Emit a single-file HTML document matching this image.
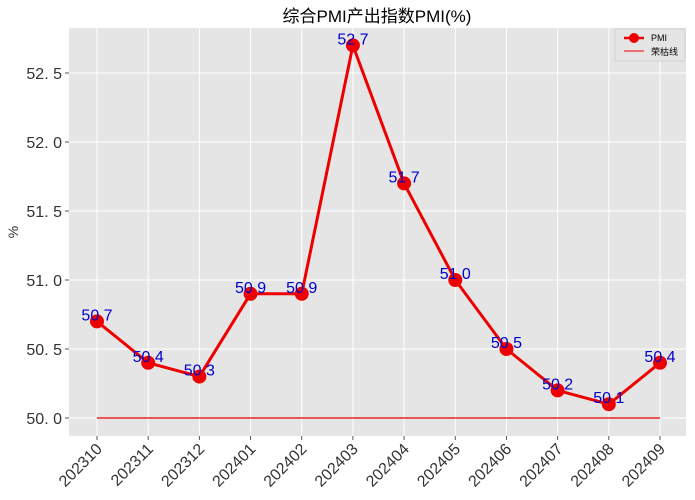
<!DOCTYPE html>
<html><head><meta charset="utf-8"><style>
body{margin:0;background:#fff;}
svg{display:block;font-family:"Liberation Sans","Noto Sans CJK SC",sans-serif;}
</style></head><body>
<svg id="chart" width="695" height="500" viewBox="0 0 695 500" xmlns="http://www.w3.org/2000/svg">
<rect x="69" y="28" width="617" height="408" fill="#e5e5e5"/>
<g id="grid"></g>
<g id="axes"></g>
<text x="377" y="22" text-anchor="middle" font-size="17" fill="#000">综合PMI产出指数PMI(%)</text>
<text x="18" y="232" text-anchor="middle" font-size="14" fill="#333" transform="rotate(-90 18 232)">%</text>
<g id="marks"></g>
<g>
<rect x="615" y="29" width="70" height="32" fill="#e5e5e5" stroke="#ccc" stroke-width="0.8"/>
<line x1="624" y1="38" x2="644" y2="38" stroke="#ee0000" stroke-width="2.5"/>
<circle cx="634" cy="38" r="5" fill="#ee0000"/>
<text x="651" y="41" font-size="9" fill="#000">PMI</text>
<line x1="624" y1="51" x2="644" y2="51" stroke="#ee0000" stroke-width="1"/>
<text x="651" y="55" font-size="9" fill="#000">荣枯线</text>
</g>
</svg>
<script>
const categories=["202310","202311","202312","202401","202402","202403","202404","202405","202406","202407","202408","202409"];
const pmiValues=[50.7,50.4,50.3,50.9,50.9,52.7,51.7,51.0,50.5,50.2,50.1,50.4];
const yTicks=[50.0,50.5,51.0,51.5,52.0,52.5];
const threshold=50;
const NS="http://www.w3.org/2000/svg";
const x=i=>97+i*(563/11);
const y=v=>418-(v-50)*138;
function mk(tag,attrs,parent){const e=document.createElementNS(NS,tag);for(const k in attrs)e.setAttribute(k,attrs[k]);parent.appendChild(e);return e;}
const grid=document.getElementById('grid'),axes=document.getElementById('axes'),marks=document.getElementById('marks');
yTicks.forEach(t=>{
 const l=mk('line',{x1:69,x2:686,y1:y(t),y2:y(t),stroke:'#fff','stroke-width':1},grid);
 
 
 mk('line',{x1:65,x2:69,y1:y(t),y2:y(t),stroke:'#555'},axes);
 const tx=mk('text',{x:62,y:y(t)+6,'text-anchor':'end','font-size':16,fill:'#333'},axes);
 tx.textContent=t.toFixed(1).replace('.','. ');
 
 
});
categories.forEach((c,i)=>{
 const l=mk('line',{x1:x(i),x2:x(i),y1:28,y2:436,stroke:'#fff','stroke-width':1},grid);
 
 
 mk('line',{x1:x(i),x2:x(i),y1:436,y2:440,stroke:'#555'},axes);
 const tx=mk('text',{x:x(i)+6,y:450,'text-anchor':'end','font-size':16,fill:'#333',transform:`rotate(-45 ${x(i)+6} 450)`},axes);
 tx.textContent=c;
 
 
});
const th=mk('line',{x1:x(0),x2:x(categories.length-1),y1:y(threshold),y2:y(threshold),stroke:'#ee0000','stroke-width':1.2},marks);


const pl=mk('polyline',{points:pmiValues.map((v,i)=>x(i)+','+y(v)).join(' '),fill:'none',stroke:'#ee0000','stroke-width':3},marks);


pmiValues.forEach((v,i)=>{
 const c=mk('circle',{cx:x(i),cy:y(v),r:7,fill:'#ee0000'},marks);
 
 
});
pmiValues.forEach((v,i)=>{
 const t=mk('text',{x:x(i),y:y(v)-1,'text-anchor':'middle','font-size':16,fill:'#0000cc'},marks);
 t.textContent=v.toFixed(1).replace('.',' ');
 
 
});
</script>
</body></html>
